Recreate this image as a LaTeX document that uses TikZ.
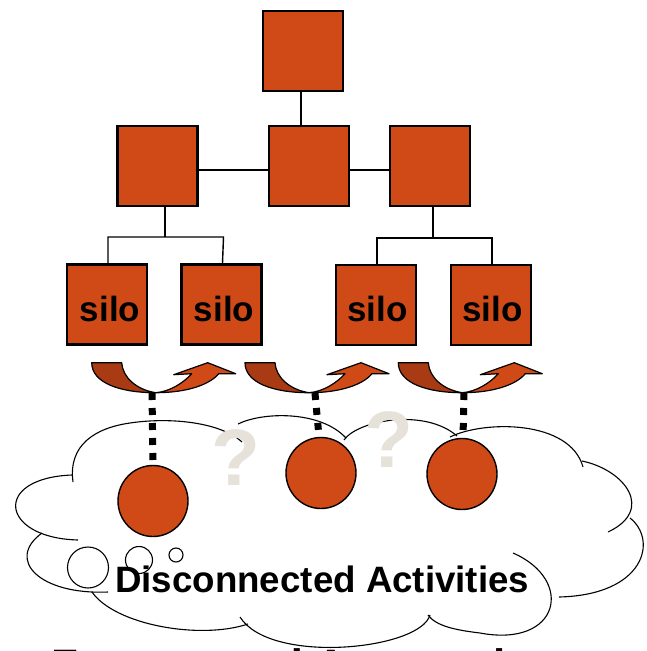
\documentclass[tikz,border=0pt]{standalone}
\usepackage{fontspec}
\setmainfont{Liberation Sans}
\usetikzlibrary{shapes.geometric}
\definecolor{rust}{RGB}{208,74,23}
\definecolor{rustdark}{RGB}{168,58,20}
\definecolor{qgrey}{RGB}{230,226,218}
\begin{document}
\begin{tikzpicture}[x=1pt,y=-1pt,
  box/.style={draw=black, line width=2.5pt, fill=rust, minimum width=80pt, minimum height=80pt, inner sep=0pt},
  link/.style={draw=black, line width=1.4pt},
  silotext/.style={font=\fontsize{35}{35}\selectfont\bfseries, inner sep=0pt, anchor=base},
  blob/.style={ellipse, draw=black, line width=1.4pt, fill=rust, minimum width=70pt, minimum height=71pt, inner sep=0pt},
  bubble/.style={circle, draw=black, line width=1.1pt, fill=white, inner sep=0pt},
  lobe/.style={draw=black, line width=1.1pt},
  dots/.style={draw=black, line width=7pt, dash pattern=on 7pt off 8pt},
  qmark/.style={text=qgrey, font=\fontsize{80}{80}\selectfont\bfseries, inner sep=0pt, anchor=base west},
  uarrow/.pic={
    \draw[black, line width=1.2pt, fill=rustdark, line join=round]
      (0,0) -- (30,0) .. controls (31,15) and (45,27) .. (64,30)
      .. controls (28,30) and (0,20) .. (0,0) -- cycle;
    \draw[black, line width=1.2pt, fill=rust, line join=round]
      (64,30) .. controls (78,29) and (92,20) .. (100,11) -- (82,12) -- (116,0) -- (144,11) -- (127,11)
      .. controls (118,22) and (95,30) .. (64,30) -- cycle;
  }]
\useasboundingbox (0,0) rectangle (646,651);
\clip (0,0) rectangle (646,651);

% cloud
\draw[lobe] (73,482) .. controls (68,445) and (95,428) .. (130,423) .. controls (170,417) and (220,422) .. (242,442);
\draw[lobe] (238,424) .. controls (262,412) and (320,410) .. (346,438);
\draw[lobe] (344,440) .. controls (358,420) and (425,408) .. (457,436);
\draw[lobe] (450,437) .. controls (485,420) and (570,420) .. (583,467);
\draw[lobe] (582,461) .. controls (625,470) and (655,510) .. (608,532);
\draw[lobe] (630,518) .. controls (658,540) and (645,595) .. (559,597);
\draw[lobe] (513,553) .. controls (575,580) and (560,648) .. (480,633) .. controls (455,630) and (436,626) .. (428,615);
\draw[lobe] (430,615) .. controls (420,650) and (270,665) .. (240,617);
\draw[lobe] (92,592) .. controls (115,625) and (200,640) .. (248,624);
\draw[lobe] (108,592) .. controls (40,595) and (5,560) .. (42,533);
\draw[lobe] (78,540) .. controls (0,538) and (-8,478) .. (72,475);

% question marks
\node[qmark] (q1) at (211,485) {?};
\node[qmark] (q2) at (364,467) {?};

% boxes
\node[box] (t) at (303,51) {};
\node[box] (l) at (157.5,166) {};
\node[box] (c) at (309,166) {};
\node[box] (r) at (430,166) {};
\node[box] (s1) at (107,304.5) {};
\node[box] (s2) at (221.5,304.5) {};
\node[box] (s3) at (376,305) {};
\node[box] (s4) at (491,305) {};
\node[silotext] (s1t) at (110,321) {silo};
\node[silotext] (s2t) at (224,321) {silo};
\node[silotext] (s3t) at (377.5,321) {silo};
\node[silotext] (s4t) at (492.5,321) {silo};

% tree connectors
\draw[link] ([xshift=-2pt]t.south) -- ([xshift=-2pt]t.south |- c.north);
\draw[link] ([yshift=-4pt]l.east) -- ([yshift=-4pt]c.west);
\draw[link] ([yshift=-4pt]c.east) -- ([yshift=-4pt]r.west);
\coordinate (lb) at (165,237);
\coordinate (rb) at (433,238);
\draw[link] (lb |- l.south) -- (lb);
\draw[link] (rb |- r.south) -- (rb);
\draw[link] ([xshift=1pt]s1.north) -- ([xshift=1pt]s1.north |- lb) -- ([xshift=2pt]s2.north |- lb) -- ([xshift=1pt]s2.north);
\draw[link] ([xshift=1pt]s3.north) -- ([xshift=1pt]s3.north |- rb) -- ([xshift=1pt]s4.north |- rb) -- ([xshift=1pt]s4.north);

% curved arrows
\pic at (91.7,362.7) {uarrow};
\pic at (245,362.7) {uarrow};
\pic at (398.3,362.7) {uarrow};
\coordinate (a1) at (152,393);
\coordinate (a2) at (315,393);
\coordinate (a3) at (464,393);

% activities
\node[blob] (e1) at (153,501) {};
\node[blob] (e2) at (321,473) {};
\node[blob] (e3) at (462,474) {};
\draw[dots] (a1) -- (e1.north);
\draw[dots] (a2) -- ([xshift=-2pt]e2.north);
\draw[dots] (a3) -- ([xshift=1pt]e3.north);

% thought bubbles
\node[bubble, minimum size=41pt] (b1) at (88,567.5) {};
\node[bubble, minimum size=27pt] (b2) at (139,560) {};
\node[bubble, minimum size=14pt] (b3) at (176,555) {};

\node[font=\fontsize{36.7}{36.7}\selectfont\bfseries, inner sep=0pt, anchor=base west] (lbl) at (115,592.7) {Disconnected Activities};

% clipped bottom title
\node[font=\fontsize{44}{44}\selectfont\bfseries, inner sep=0pt, anchor=base west] (title) at (51,680) {Fragmented Approach};
\end{tikzpicture}
\end{document}
